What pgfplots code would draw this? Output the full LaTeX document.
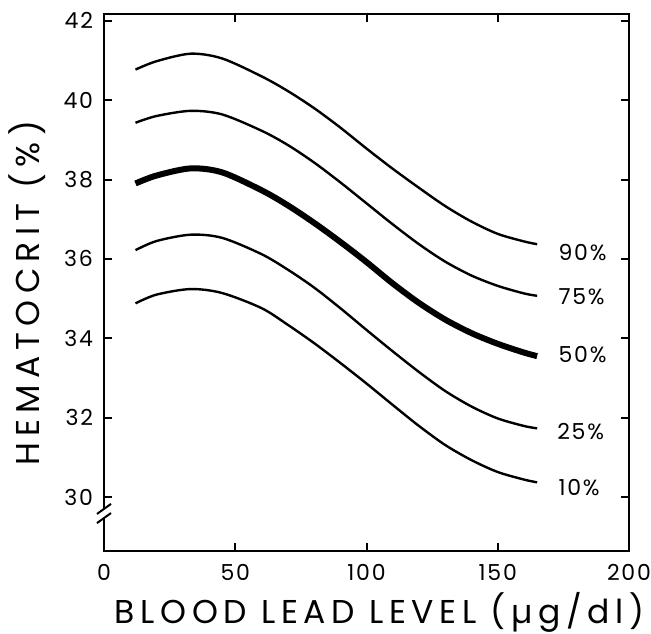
\documentclass[border=0pt]{standalone}
\usepackage{fontspec}
\setmainfont{Poppins}
\usepackage{pgfplots}
\pgfplotsset{compat=1.18}

% percentile curves of hematocrit vs blood lead
\pgfplotstableread{
x    p90    p75    p50    p25    p10
12   40.77  39.43  37.90  36.22  34.88
20   40.98  39.60  38.10  36.45  35.10
33   41.17  39.73  38.28  36.61  35.24
45   41.05  39.64  38.18  36.53  35.14
60   40.60  39.23  37.73  36.12  34.76
70   40.23  38.87  37.35  35.73  34.34
80   39.80  38.43  36.91  35.28  33.88
90   39.31  37.93  36.43  34.76  33.38
100  38.78  37.40  35.92  34.21  32.86
110  38.27  36.87  35.38  33.67  32.32
120  37.79  36.37  34.89  33.15  31.79
130  37.33  35.93  34.47  32.67  31.31
140  36.94  35.58  34.13  32.28  30.93
150  36.63  35.32  33.86  31.98  30.63
160  36.44  35.13  33.64  31.79  30.44
165  36.37  35.07  33.55  31.73  30.37
}\curves

\begin{document}
\begin{tikzpicture}
\begin{axis}[
    scale only axis,
    width=262.5pt, height=268.5pt,
    xmin=0, xmax=200,
    ymin=28.64, ymax=42.17,
    xtick={0,50,...,200},
    ytick={30,32,...,42},
    tick align=inside,
    major tick length=4pt,
    every tick/.style={black, line width=1pt},
    axis line style={line width=1.1pt},
    /pgf/number format/assume math mode=true,
    tick label style={font=\fontsize{11}{12}\selectfont\addfontfeatures{LetterSpace=8}},
    yticklabel style={xshift=-2pt},
    xticklabel style={yshift=-3pt},
    xlabel={BLOOD LEAD LEVEL (µg/dl)},
    ylabel={HEMATOCRIT (\%)},
    every axis x label/.style={at={([yshift=-30.5pt]axis description cs:0.525,0)}, anchor=center,
        font=\fontsize{16.5}{18}\selectfont\addfontfeatures{LetterSpace=17}},
    every axis y label/.style={at={([xshift=-38.5pt]axis description cs:0,0.48)}, anchor=center, rotate=90,
        font=\fontsize{16.5}{18}\selectfont\addfontfeatures{LetterSpace=19}},
    clip=false,
]
\addplot[black, line width=1.2pt, smooth] table[x=x, y=p90] {\curves};
\addplot[black, line width=1.2pt, smooth] table[x=x, y=p75] {\curves};
\addplot[black, line width=3pt, smooth] table[x=x, y=p50] {\curves};
\addplot[black, line width=1.2pt, smooth] table[x=x, y=p25] {\curves};
\addplot[black, line width=1.2pt, smooth] table[x=x, y=p10] {\curves};

\begin{scope}[font=\fontsize{11}{12}\selectfont\addfontfeatures{LetterSpace=8}]
\node[anchor=west] at (axis cs:170.5,36.17) {90\%};
\node[anchor=west] at (axis cs:170.5,35.04) {75\%};
\node[anchor=west] at (axis cs:170.5,33.58) {50\%};
\node[anchor=west] at (axis cs:170,31.64) {25\%};
\node[anchor=west] at (axis cs:170.5,30.25) {10\%};
\end{scope}

\coordinate (b1) at (axis cs:0,29.47);
\coordinate (b2) at (axis cs:0,29.70);
\coordinate (sw) at (axis cs:0,28.64);
\coordinate (ne) at (axis cs:200,42.17);
\end{axis}

% axis break on the y axis
\fill[white] ([xshift=-2pt]b1) rectangle ([xshift=2pt]b2);
\draw[line width=1pt] ([xshift=-3.5pt,yshift=-2.5pt]b1) -- ([xshift=3.5pt,yshift=2.5pt]b1);
\draw[line width=1pt] ([xshift=-3.5pt,yshift=-2.5pt]b2) -- ([xshift=3.5pt,yshift=2.5pt]b2);

\pgfresetboundingbox
\path ([xshift=-52pt,yshift=-41pt]sw) rectangle ([xshift=11pt,yshift=7pt]ne);
\end{tikzpicture}
\end{document}
